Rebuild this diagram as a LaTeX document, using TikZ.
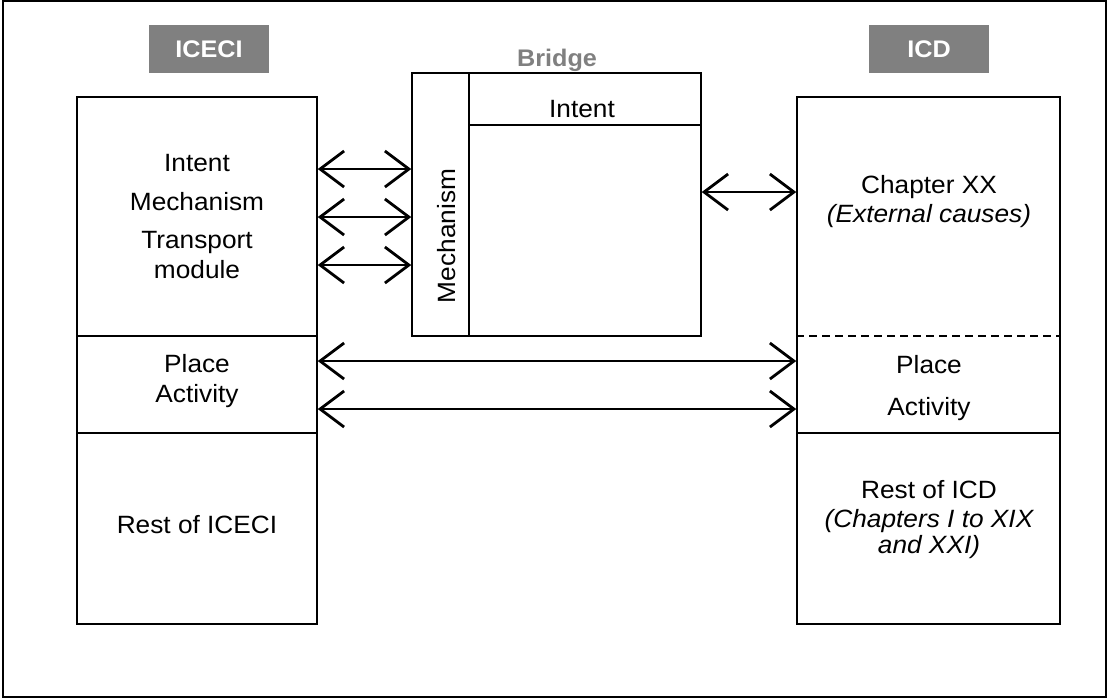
\documentclass[tikz,border=0pt]{standalone}
\usepackage{fontspec}
\setmainfont{Liberation Sans}[FakeStretch=1.05]
\usetikzlibrary{arrows.meta}

\definecolor{tagGray}{RGB}{128,128,128}

\begin{document}
\begin{tikzpicture}[x=0.5pt,y=-0.5pt,
  box/.style={draw,line width=0.75pt,minimum width=#1,inner sep=0pt},
  tag/.style={fill=tagGray,text=white,font=\fontsize{12}{14}\selectfont\bfseries,
    minimum width=60pt,minimum height=24pt,inner sep=0pt},
  txt/.style={anchor=base,inner sep=0pt,font=\fontsize{12.5}{15}\selectfont},
  itx/.style={txt,font=\fontsize{12.5}{15}\selectfont\itshape},
  dbl/.style={{Straight Barb[length=12pt,width=18pt,line width=1.4pt]}-{Straight Barb[length=12pt,width=18pt,line width=1.4pt]},line width=1.25pt}]
\useasboundingbox (0,0) rectangle (1109,698);
\draw[line width=0.75pt] (3,1) rectangle (1106,697);

% the three blocks
\node[box=120pt,minimum height=263.5pt] (iceci) at (197,360.5) {};
\node[box=131.5pt,minimum height=263.5pt] (icd) at (928.5,360.5) {};
\node[box=144.5pt,minimum height=131.5pt] (bridge) at (556.5,204.5) {};

\node[tag] (iceciTag) at (209,49) {ICECI};
\node[tag] (icdTag) at (929,49) {ICD};
\node[txt,font=\fontsize{12}{14}\selectfont\bfseries,text=tagGray] (bridgeTag) at (557,66) {Bridge};

% row marks
\coordinate (d1) at (0,336);
\coordinate (d2) at (0,433);
\coordinate (bv) at (469,0);
\coordinate (bh) at (0,125);

\draw[line width=0.75pt] (iceci.west |- d1) -- (iceci.east |- d1);
\draw[line width=0.75pt] (iceci.west |- d2) -- (iceci.east |- d2);
\draw[line width=0.75pt,dash pattern=on 4pt off 2.5pt] (icd.west |- d1) -- (icd.east |- d1);
\draw[line width=0.75pt] (icd.west |- d2) -- (icd.east |- d2);
\draw[line width=0.75pt] (bridge.north -| bv) -- (bridge.south -| bv);
\draw[line width=0.75pt] (bv |- bh) -- (bridge.east |- bh);

% ICECI texts
\node[txt] (iIntent) at (197,171) {Intent};
\node[txt] (iMech) at (197,210) {Mechanism};
\node[txt] (iTrans) at (197,248) {Transport};
\node[txt] (iModule) at (197,278) {module};
\node[txt] (iPlace) at (197,372) {Place};
\node[txt] (iAct) at (197,402) {Activity};
\node[txt] (iRest) at (197,533) {Rest of ICECI};

% bridge texts
\node[txt] (bIntent) at (582,117) {Intent};
\node[font=\fontsize{12.5}{15}\selectfont,rotate=90,inner sep=0pt] (bMech) at (447,236) {Mechanism};

% ICD texts
\node[txt] (cChap) at (929,193) {Chapter XX};
\node[itx] (cExt) at (929,222) {(External causes)};
\node[txt] (cPlace) at (929,373) {Place};
\node[txt] (cAct) at (929,415) {Activity};
\node[txt] (cRest) at (929,498) {Rest of ICD};
\node[itx] (cChI) at (929,527) {(Chapters I to XIX};
\node[itx] (cXXI) at (929,553) {and XXI)};

% links
\coordinate (m1) at (0,169);
\coordinate (m2) at (0,217);
\coordinate (m3) at (0,265);
\coordinate (c1) at (0,192);
\coordinate (p1) at (0,361);
\coordinate (p2) at (0,409);

\draw[dbl] (iceci.east |- m1) -- (bridge.west |- m1);
\draw[dbl] (iceci.east |- m2) -- (bridge.west |- m2);
\draw[dbl] (iceci.east |- m3) -- (bridge.west |- m3);
\draw[dbl] (bridge.east |- c1) -- (icd.west |- c1);
\draw[dbl] (iceci.east |- p1) -- (icd.west |- p1);
\draw[dbl] (iceci.east |- p2) -- (icd.west |- p2);
\end{tikzpicture}
\end{document}
